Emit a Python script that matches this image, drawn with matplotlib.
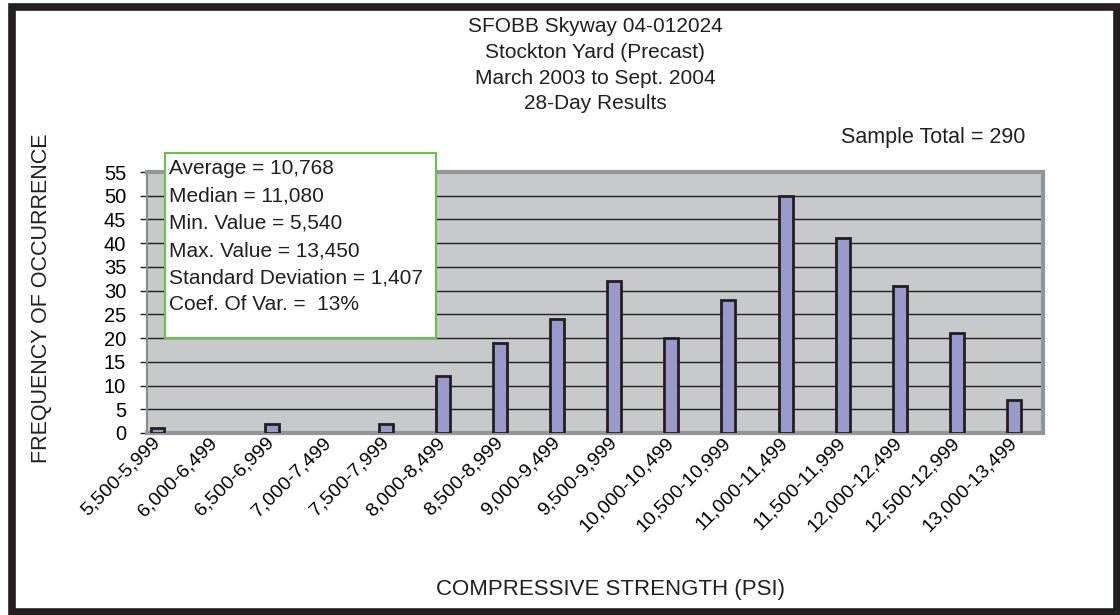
import matplotlib.pyplot as plt
import matplotlib.transforms as mtransforms
from matplotlib.patches import Rectangle

# dados do histograma
categorias = ["5,500-5,999", "6,000-6,499", "6,500-6,999", "7,000-7,499",
              "7,500-7,999", "8,000-8,499", "8,500-8,999", "9,000-9,499",
              "9,500-9,999", "10,000-10,499", "10,500-10,999", "11,000-11,499",
              "11,500-11,999", "12,000-12,499", "12,500-12,999", "13,000-13,499"]
frequencias = [1, 0, 2, 0, 2, 12, 19, 24, 32, 20, 28, 50, 41, 31, 21, 7]
y_ticks = [0, 5, 10, 15, 20, 25, 30, 35, 40, 45, 50, 55]

titulo = ["SFOBB Skyway 04-012024", "Stockton Yard (Precast)",
          "March 2003 to Sept. 2004", "28-Day Results"]
estatisticas = ["Average = 10,768", "Median = 11,080", "Min. Value = 5,540",
                "Max. Value = 13,450", "Standard Deviation = 1,407",
                "Coef. Of Var. =  13%"]
total_txt = "Sample Total = 290"

plt.rcParams['font.family'] = ['Liberation Sans', 'DejaVu Sans']

W, H = 1120, 615
fig = plt.figure(figsize=(W / 100, H / 100), dpi=100)


def fx(x):
    return x / W


def fy(y):
    return 1 - y / H


# moldura externa
fig.patches.append(Rectangle((fx(12), fy(612)), fx(1117) - fx(12), fy(7) - fy(612),
                             transform=fig.transFigure, fill=False,
                             edgecolor='#231f20', linewidth=5.5))

ax = fig.add_axes([fx(147), fy(433), fx(1043) - fx(147), fy(172) - fy(433)])
ax.set_facecolor('#c8c9cb')

x = list(range(len(categorias)))
# barras com valor zero nao aparecem no original
larguras_borda = [2.0 if v > 0 else 0 for v in frequencias]
ax.bar(x, frequencias, width=0.245, color='#9999cc', edgecolor='#231f20',
       linewidth=larguras_borda, zorder=3)

ax.set_xlim(-0.184, 15.51)
ax.set_ylim(0, 55)
ax.set_yticks(y_ticks)
ax.yaxis.grid(True, color='#231f20', linewidth=1.0, zorder=1)
ax.set_axisbelow(True)

ax.set_xticks(x)
ax.set_xticklabels(categorias, rotation=45, ha='right', rotation_mode='anchor',
                   fontsize=14)
ax.tick_params(axis='x', length=0, pad=3)
ax.tick_params(axis='y', length=5, width=1, color='#231f20', labelsize=14.5, pad=10)

# desloca os rotulos para o fim ficar sob o centro da barra
desloc = mtransforms.ScaledTranslation(-6 / 100, 3 / 100, fig.dpi_scale_trans)
for lbl in ax.get_xticklabels():
    lbl.set_transform(lbl.get_transform() + desloc)

for lado in ['top', 'right', 'bottom']:
    ax.spines[lado].set_color('#939598')
    ax.spines[lado].set_linewidth(3)
ax.spines['left'].set_color('#8a8a8a')
ax.spines['left'].set_linewidth(1.5)

# titulo
for i, linha in enumerate(titulo):
    fig.text(fx(595), fy(27 + 25.5 * i), linha, ha='center', va='center',
             fontsize=15, color='#231f20')
fig.text(fx(1025), fy(138), total_txt, ha='right', va='center',
         fontsize=15.5, color='#231f20')

# caixa de estatisticas
fig.patches.append(Rectangle((fx(164.5), fy(338)), fx(436) - fx(164.5), fy(153) - fy(338),
                             transform=fig.transFigure, facecolor='white',
                             edgecolor='#6cc04a', linewidth=1.5, zorder=5))
for i, linha in enumerate(estatisticas):
    fig.text(fx(169), fy(169 + 27.2 * i), linha, ha='left', va='center',
             fontsize=15, color='#231f20', zorder=6)

fig.text(fx(42), fy(298), "FREQUENCY OF OCCURRENCE", rotation=90, ha='center',
         va='center', fontsize=15.5, color='#231f20')
fig.text(fx(610), fy(590), "COMPRESSIVE STRENGTH (PSI)", ha='center', va='center',
         fontsize=16, color='#231f20')

fig.savefig('out.png', dpi=100)
